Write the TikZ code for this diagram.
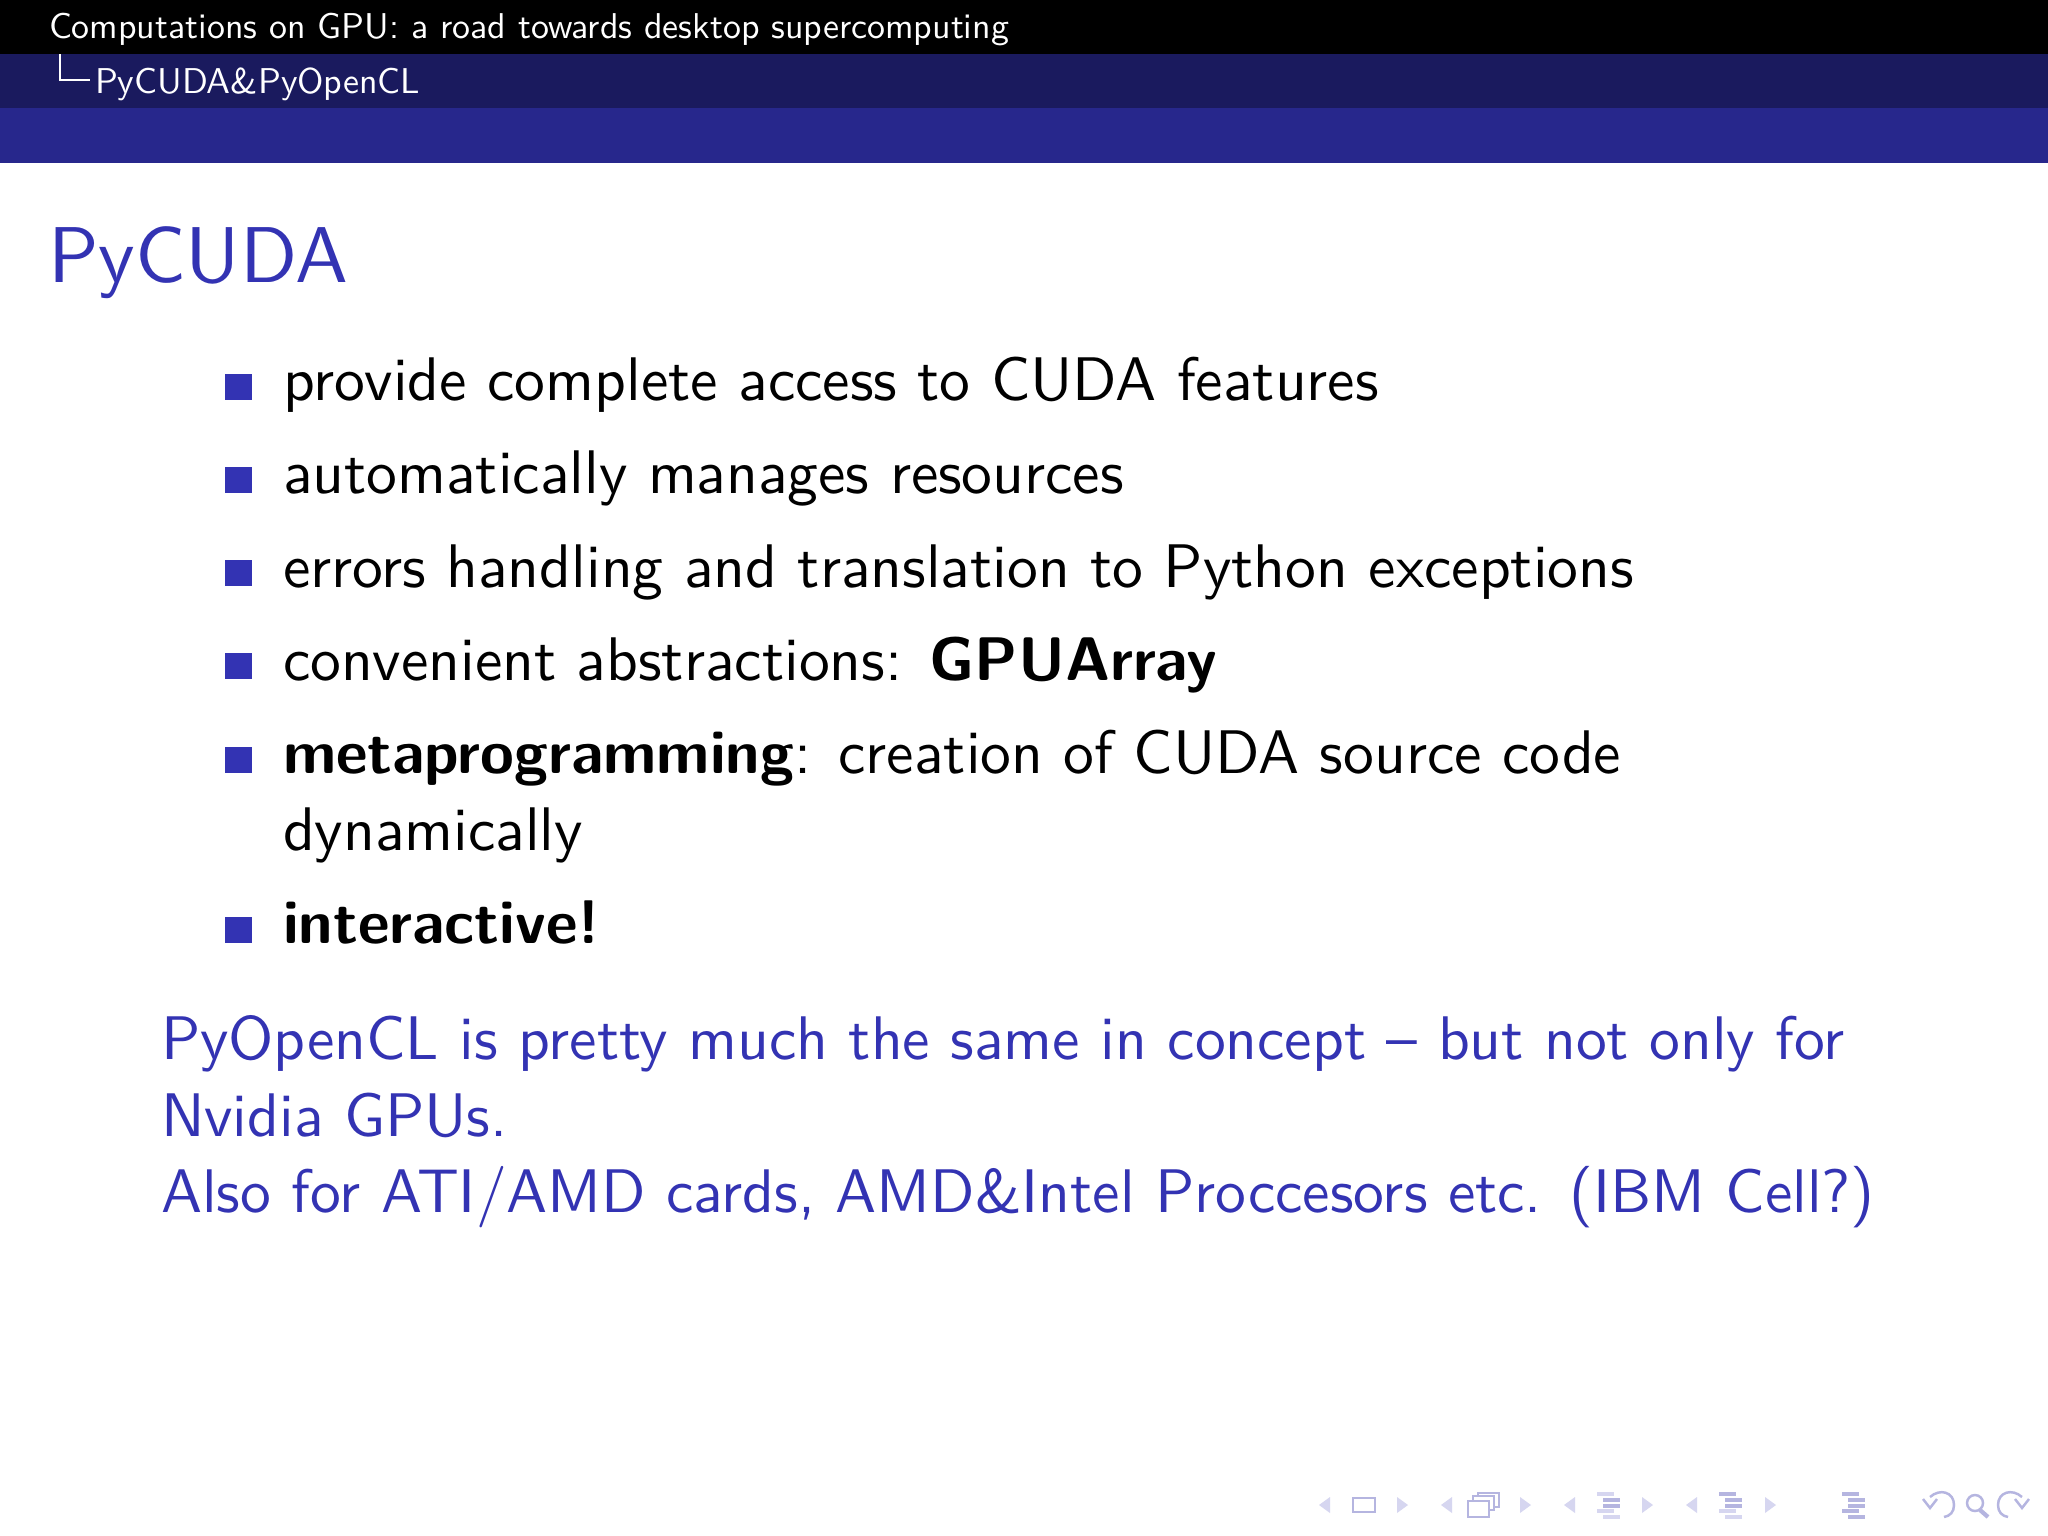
\documentclass[tikz,border=0pt]{standalone}
\usepackage{fontspec}
\definecolor{navblack}{HTML}{000000}
\definecolor{navdark}{HTML}{1A1A5E}
\definecolor{navblue}{HTML}{27278C}
\definecolor{bodyblue}{HTML}{3333B3}
\definecolor{navlight}{HTML}{D6D6F0}
\definecolor{navmid}{HTML}{B5B5E0}
\tikzset{
  txt/.style={anchor=base west,inner sep=0pt,outer sep=0pt,scale=1.75,font=\sffamily\fontsize{10}{12}\selectfont},
  hdr/.style={anchor=base west,inner sep=0pt,outer sep=0pt,scale=1.02,text=white,font=\sffamily\fontsize{10}{12}\selectfont},
  blu/.style={txt,text=bodyblue},
  bul/.style={fill=bodyblue,draw=none},
  tril/.style={fill=navlight,draw=none},
  lnmid/.style={fill=navmid,draw=none},
  lnlight/.style={fill=navlight,draw=none},
  ico/.style={draw=navmid,line width=0.7pt,fill=none}
}
\newcommand{\navtri}[2]{%
  \fill[tril] (#1,1497)--(#1-11,1505)--(#1,1513)--cycle;
  \fill[tril] (#2,1497)--(#2+11,1505)--(#2,1513)--cycle;}
\newcommand{\navlines}[6]{%
  \fill[#2] (#1,1492) rectangle ++(17,3.5);
  \fill[#3] (#1+6,1498) rectangle ++(17,3.5);
  \fill[#4] (#1+6,1504) rectangle ++(17,3.5);
  \fill[#5] (#1,1509) rectangle ++(17,3.5);
  \fill[#6] (#1+6,1515) rectangle ++(17,3.5);}
\begin{document}
\begin{tikzpicture}[x=0.01cm,y=-0.01cm]
\useasboundingbox (0,0) rectangle (2048,1536);
\fill[white] (0,0) rectangle (2048,1536);
\fill[navblack] (0,0) rectangle (2048,54);
\fill[navdark] (0,54) rectangle (2048,108);
\fill[navblue] (0,108) rectangle (2048,163);
\node[hdr] (h1) at (49,38) {Computations on GPU: a road towards desktop supercomputing};
\node[hdr] (h2) at (95,93) {PyCUDA\&PyOpenCL};
\draw[white,line width=0.5pt] (60,54)--(60,80)--(90,80);
\node[blu,scale=2.25/1.75] (title) at (48,282) {PyCUDA};
\fill[bul] (225,374) rectangle (252,400);
\node[txt] (i1) at (283,400) {provide complete access to CUDA features};
\fill[bul] (225,467) rectangle (252,493);
\node[txt] (i2) at (283,493) {automatically manages resources};
\fill[bul] (225,560) rectangle (252,586);
\node[txt] (i3) at (283,587) {errors handling and translation to Python exceptions};
\fill[bul] (225,653) rectangle (252,679);
\node[txt] (i4) at (283,680) {convenient abstractions: \textbf{GPUArray}};
\fill[bul] (225,747) rectangle (252,773);
\node[txt] (i5) at (283,773) {\textbf{metaprogramming}: creation of CUDA source code};
\node[txt] (i5b) at (283,850) {dynamically};
\fill[bul] (225,917) rectangle (252,943);
\node[txt] (i6) at (283,943) {\textbf{interactive!}};
\node[blu] (p1) at (161,1059) {PyOpenCL is pretty much the same in concept -- but not only for};
\node[blu] (p2) at (161,1136) {Nvidia GPUs.};
\node[blu] (p3) at (161,1212) {Also for ATI/AMD cards, AMD\&Intel Proccesors etc. (IBM Cell?)};
% navigation
\navtri{1330}{1397}
\draw[ico] (1353,1498) rectangle (1375,1512);
\navtri{1452}{1520}
\draw[ico] (1478,1493) rectangle (1499,1507);
\draw[ico,fill=white] (1473,1496) rectangle (1494,1510);
\draw[ico,fill=white] (1468,1501) rectangle (1489,1517);
\navtri{1575}{1642}
\navlines{1597}{lnlight}{lnmid}{lnmid}{lnlight}{lnlight}
\navtri{1697}{1765}
\navlines{1719}{lnmid}{lnmid}{lnmid}{lnlight}{lnlight}
\navlines{1842}{lnmid}{lnmid}{lnmid}{lnmid}{lnmid}
\draw[ico] (1930,1497) .. controls (1940,1488) and (1954,1492) .. (1954,1505) .. controls (1954,1512) and (1950,1516) .. (1944,1517);
\draw[ico] (1923,1499)--(1930,1508)--(1937,1499);
\draw[ico] (1975,1503) circle (8);
\draw[navmid,line width=1.2pt] (1980,1510)--(1988,1517);
\draw[ico] (2022,1497) .. controls (2012,1488) and (1998,1492) .. (1998,1505) .. controls (1998,1512) and (2002,1516) .. (2008,1517);
\draw[ico] (2015,1499)--(2022,1508)--(2029,1499);
\end{tikzpicture}
\end{document}
